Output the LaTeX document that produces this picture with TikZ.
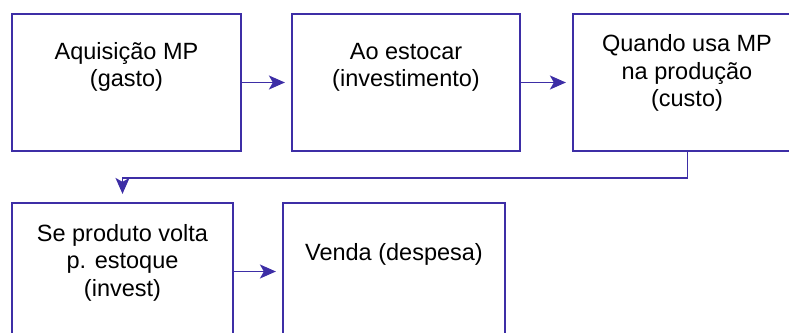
\documentclass[tikz,border=0pt]{standalone}
\usepackage{fontspec}
\setmainfont{Liberation Sans}
\usetikzlibrary{arrows.meta}
\definecolor{frame}{HTML}{3D2EA6}
\tikzset{
  box/.style={draw=frame, line width=2.2pt, rectangle, inner sep=0pt},
  lbl/.style={anchor=base, align=center, inner sep=0pt, text=black,
    font=\fontsize{23.5pt}{27.5pt}\selectfont},
  conn/.style={draw=frame, line width=1.8pt,
    -{Stealth[length=16pt,width=14pt,inset=4pt]}},
}
\begin{document}
\begin{tikzpicture}[x=1pt,y=-1pt]
\path[use as bounding box] (0,0) rectangle (789,332);
\clip (0,0) rectangle (789,332);
\node[box, minimum width=229pt, minimum height=137pt] (b1) at (126.5,82.5) {};
\node[box, minimum width=228pt, minimum height=137pt] (b2) at (406,82.5) {};
\node[box, minimum width=229pt, minimum height=137pt] (b3) at (687.5,82.5) {};
\node[box, minimum width=221pt, minimum height=137pt] (b4) at (122.5,271.5) {};
\node[box, minimum width=222pt, minimum height=137pt] (b5) at (394,271.5) {};
\node[lbl] (t1) at (126.5,86.8) {Aquisição MP\\(gasto)};
\node[lbl] (t2) at (406,86.8) {Ao estocar\\(investimento)};
\node[lbl] (t3) at (687,106.7) {Quando usa MP\\na produção\\(custo)};
\node[lbl] (t4) at (122.5,296.3) {Se produto volta\\p. estoque\\(invest)};
\node[lbl] (t5) at (394,260) {Venda (despesa)};
\draw[conn, shorten >=6pt] (b1.east) -- (b2.west);
\draw[conn, shorten >=6pt] (b2.east) -- (b3.west);
\draw[conn, shorten >=6pt] (b4.east) -- (b5.west);
\draw[conn, shorten >=8pt] (b3.south) -- ++(0,26) -| (b4.north);
\end{tikzpicture}
\end{document}
